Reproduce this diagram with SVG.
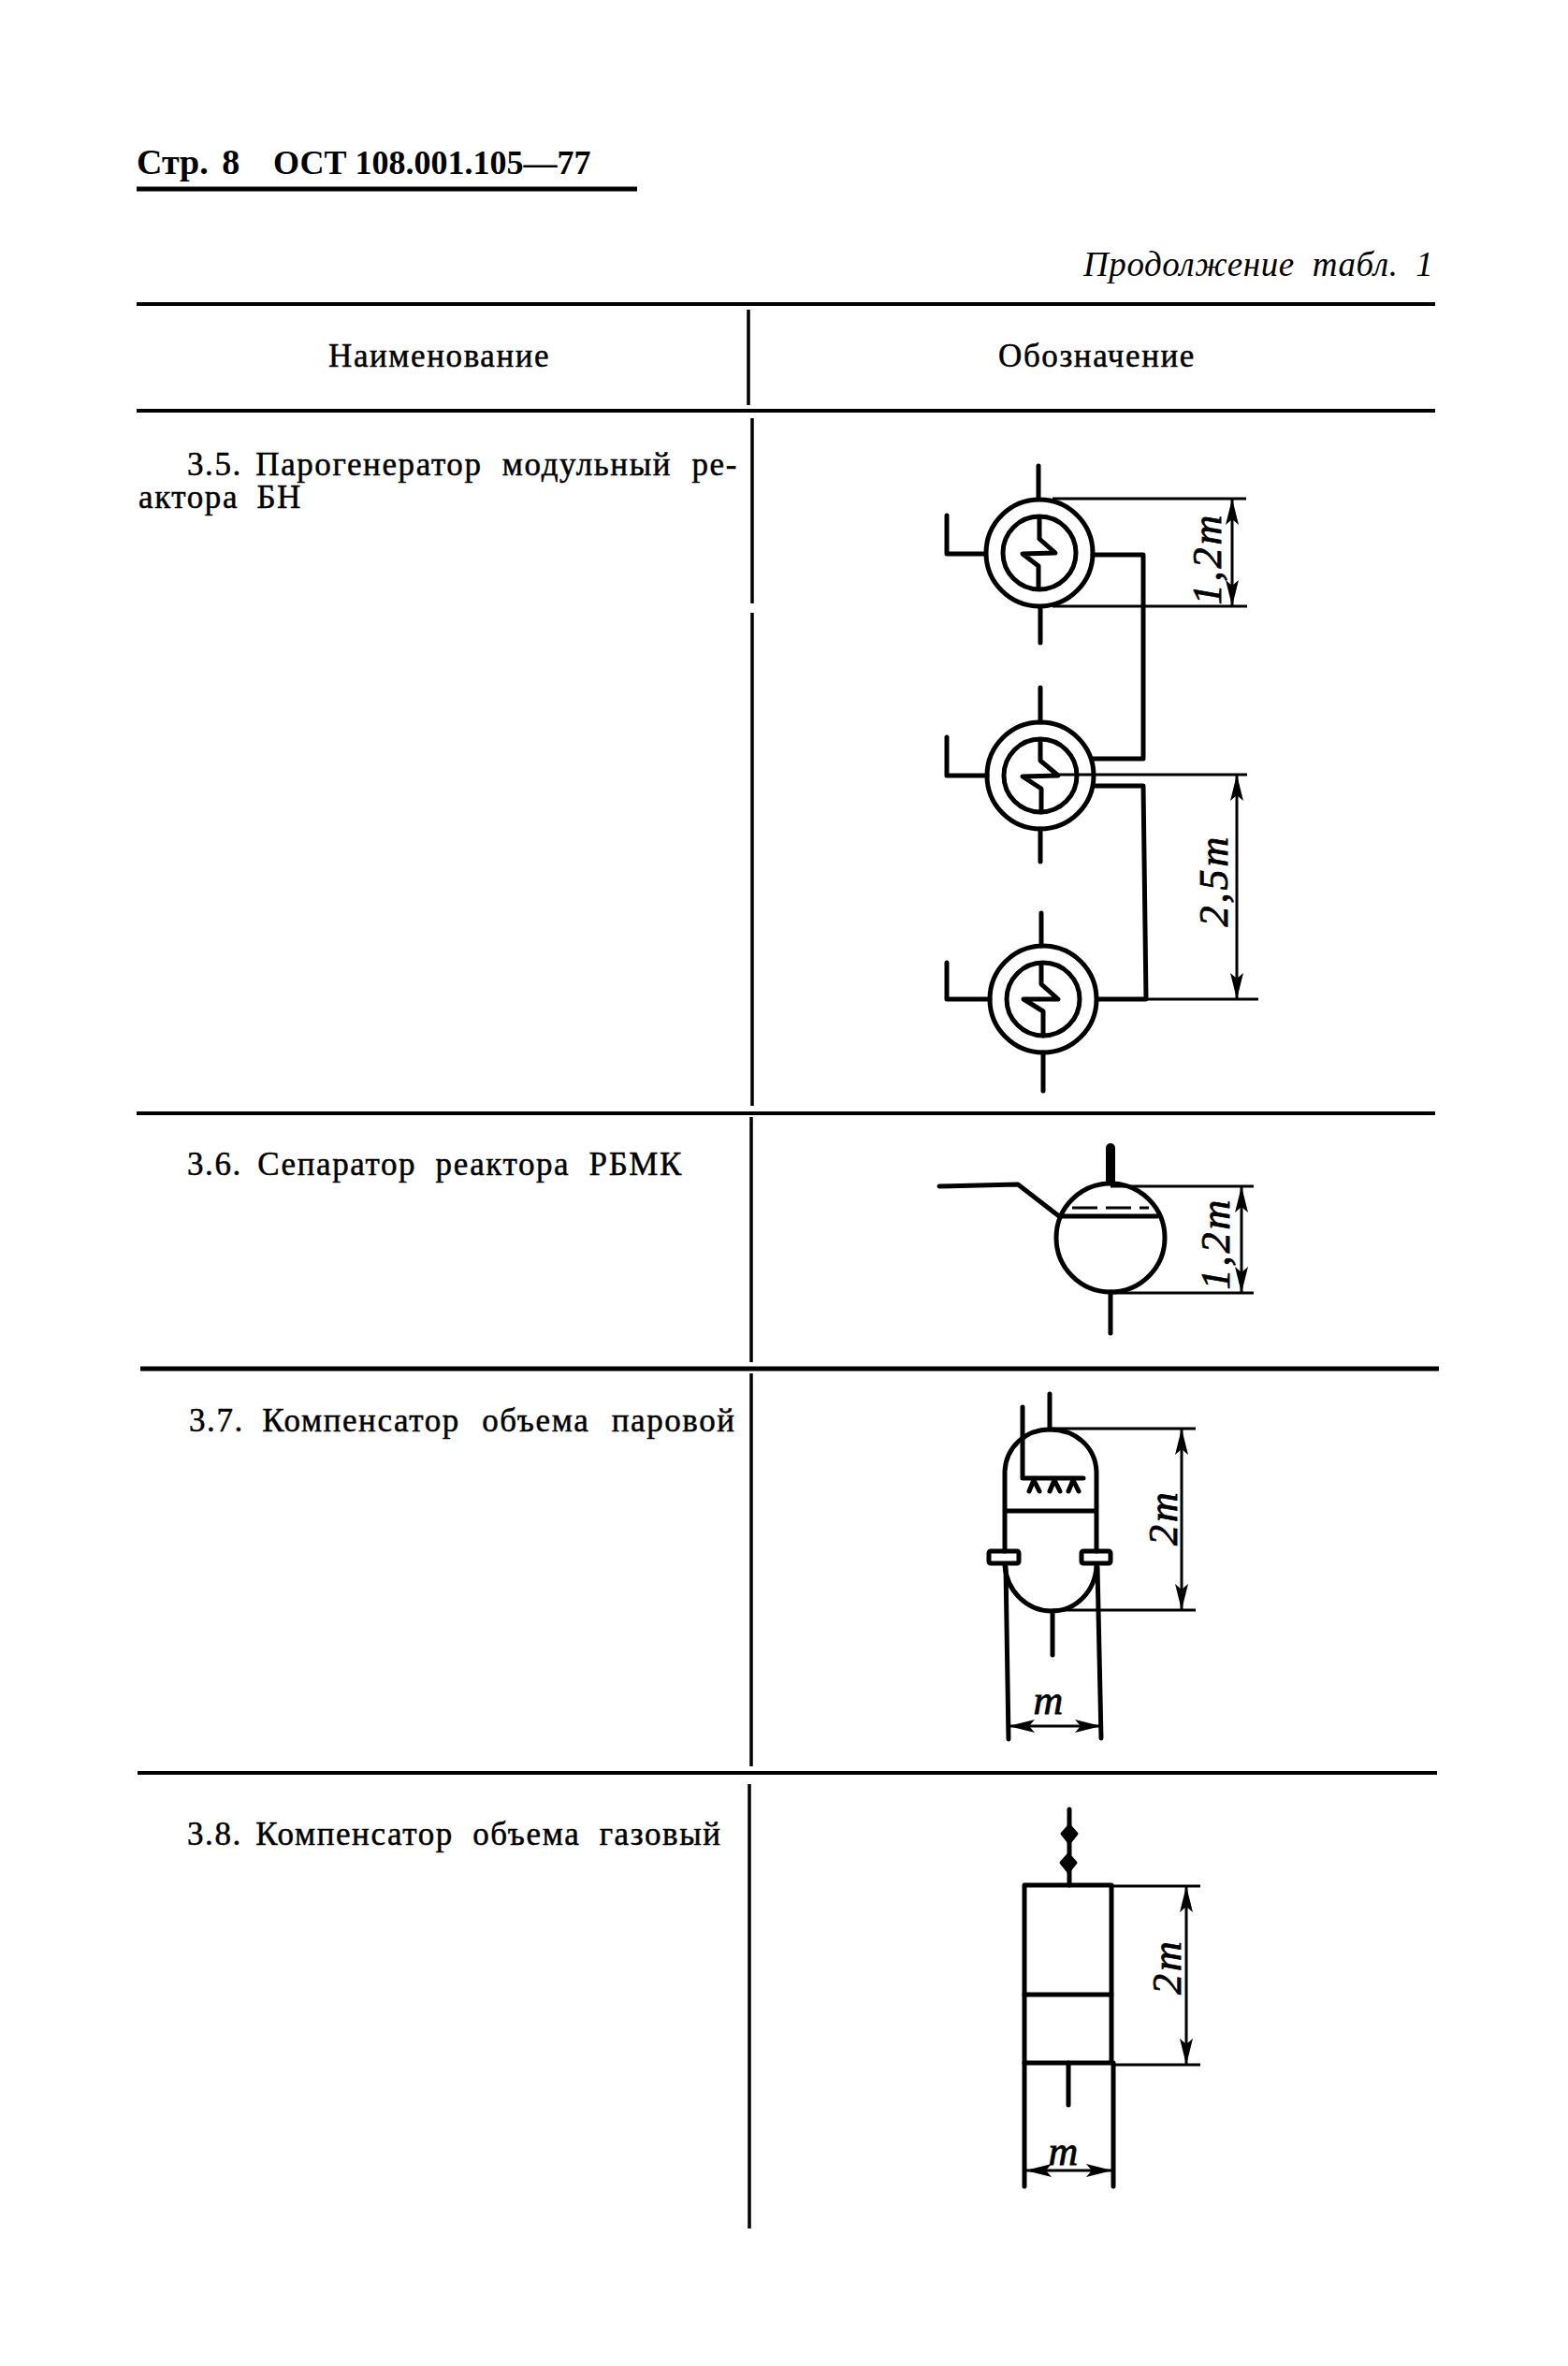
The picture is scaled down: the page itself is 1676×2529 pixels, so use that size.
<svg xmlns="http://www.w3.org/2000/svg" width="1676" height="2529" viewBox="0 0 1676 2529">
<style>
.l{fill:none;stroke:#000;stroke-width:5;stroke-linecap:round;stroke-linejoin:round}
.h{fill:none;stroke:#000;stroke-width:4}
.d{fill:none;stroke:#000;stroke-width:3}
.v{fill:none;stroke:#000;stroke-width:3.5}
.t{font-family:"Liberation Serif",serif;font-size:35px;letter-spacing:1.6px;fill:#000;stroke:#000;stroke-width:.5}
.b{font-family:"Liberation Serif",serif;font-size:36px;font-weight:bold;fill:#000}
.i{font-family:"Liberation Serif",serif;font-size:37px;letter-spacing:.6px;word-spacing:9px;font-style:italic;fill:#000}
.m{font-family:"Liberation Serif",serif;font-size:44px;letter-spacing:3px;font-style:italic;fill:#000;stroke:#000;stroke-width:.8;text-anchor:middle}
</style>
<defs>
<marker id="a" viewBox="0 0 28 14" refX="27" refY="7" markerWidth="28" markerHeight="14" markerUnits="userSpaceOnUse" orient="auto-start-reverse"><path d="M0 0L28 7L0 14L6 7Z" fill="#000"/></marker>
</defs>
<rect width="1676" height="2529" fill="#fff"/>
<g id="table">
<path class="h" style="stroke-width:5" d="M146 202H681"/>
<path class="h" d="M146 325H1534M146 439H1534M146 1190H1534"/>
<path class="h" style="stroke-width:5" d="M150 1463H1538"/>
<path class="h" d="M147 1895H1536"/>
<path class="v" d="M800 331V433M804 447V645M804 655V1182M803 1194V1456M803 1468V1888M801 1907V2382"/>
</g>
<g id="texts">
<text class="b" x="146" y="186" style="font-size:38px;word-spacing:5px">Стр. 8</text>
<text class="b" x="292" y="186">ОСТ 108.001.105—77</text>
<text class="i" x="1158" y="295">Продолжение табл. 1</text>
<text class="t" x="351" y="392">Наименование</text>
<text class="t" x="1067" y="392">Обозначение</text>
<text class="t" x="200" y="508"><tspan style="word-spacing:4px">3.5. </tspan><tspan style="word-spacing:11px">Парогенератор модульный ре-</tspan></text>
<text class="t" x="148" y="543" style="word-spacing:9px">актора БН</text>
<text class="t" x="200" y="1256"><tspan style="word-spacing:6px">3.6. </tspan><tspan style="word-spacing:10px">Сепаратор реактора РБМК</tspan></text>
<text class="t" x="202" y="1530"><tspan style="word-spacing:9px">3.7. </tspan><tspan style="word-spacing:13px">Компенсатор объема паровой</tspan></text>
<text class="t" x="200" y="1972"><tspan style="word-spacing:4px">3.8. </tspan><tspan style="word-spacing:10px">Компенсатор объема газовый</tspan></text>
</g>
<g id="connectors">
<path class="l" d="M1168 593H1222V811H1168"/>
<path class="l" d="M1170 840H1222L1225 1068H1173"/>
<path class="d" d="M1125 533H1332M1125 648H1333M1128 828H1333M1173 1068H1345"/>
<path class="d" marker-start="url(#a)" marker-end="url(#a)" d="M1317 534V647"/>
<path class="d" marker-start="url(#a)" marker-end="url(#a)" d="M1322 829V1067"/>
<text class="m" transform="translate(1305 597) rotate(-90)">1,2m</text>
<text class="m" transform="translate(1312 941) rotate(-90)">2,5m</text>
</g>
<g id="steam-generator-1">
<circle class="l" cx="1111" cy="591" r="57"/><circle class="l" cx="1111" cy="591" r="39"/>
<path class="l" d="M1110 498V533M1112 649V687M1012 551V592H1053"/>
<path class="l" d="M1111 553V576L1128 591L1093 592L1110 605V629"/>
</g>
<g id="steam-generator-2">
<circle class="l" cx="1112" cy="829" r="57"/><circle class="l" cx="1112" cy="829" r="39"/>
<path class="l" d="M1112 735V772M1112 886V921M1012 788V829H1055"/>
<path class="l" d="M1112 792V813L1131 829L1093 830L1113 843V868"/>
</g>
<g id="steam-generator-3">
<circle class="l" cx="1115" cy="1068" r="57"/><circle class="l" cx="1115" cy="1068" r="39"/>
<path class="l" d="M1113 976V1011M1115 1125V1166M1012 1029V1068H1058"/>
<path class="l" d="M1113 1031V1052L1131 1068L1094 1068L1115 1081V1107"/>
</g>
<g id="separator">
<circle class="l" cx="1187" cy="1323" r="58"/>
<path class="l" style="stroke-width:10" d="M1187 1227V1262"/>
<path class="l" d="M1187 1381V1425M1004 1268L1088 1266L1132 1300M1135 1300H1237"/>
<path class="d" stroke-dasharray="27 9" d="M1146 1291H1228"/>
<path class="d" d="M1187 1268H1340M1187 1382H1340"/>
<path class="d" marker-start="url(#a)" marker-end="url(#a)" d="M1327 1269V1381"/>
<text class="m" transform="translate(1314 1329) rotate(-90)">1,2m</text>
</g>
<g id="pressurizer-steam">
<path class="l" d="M1122 1490V1528M1093 1504V1580H1158"/>
<path class="l" d="M1074 1658V1573C1075 1547 1096 1528 1122 1528C1150 1528 1171 1547 1172 1573V1658M1074 1615H1172"/>
<path class="l" d="M1074 1673C1076 1701 1098 1722 1124 1722C1150 1722 1171 1701 1172 1673M1125 1722V1769"/>
<rect class="l" x="1057" y="1658" width="32" height="13" rx="2"/>
<rect class="l" x="1156" y="1658" width="31" height="13" rx="2"/>
<path class="l" d="M1100 1594L1105 1582L1111 1594M1122 1594L1127 1582L1133 1594M1142 1594L1147 1582L1153 1594"/>
<path class="d" d="M1122 1527H1278M1124 1721H1278"/>
<path class="d" marker-start="url(#a)" marker-end="url(#a)" d="M1263 1528V1720"/>
<text class="m" transform="translate(1258 1622) rotate(-90)">2m</text>
<path class="l" d="M1075 1675L1078 1859M1173 1675L1177 1858"/>
<path class="d" marker-start="url(#a)" marker-end="url(#a)" d="M1079 1845H1176"/>
<text class="m" x="1122" y="1832">m</text>
</g>
<g id="pressurizer-gas">
<rect class="l" x="1095" y="2015" width="93" height="190"/>
<path class="l" d="M1095 2132H1188M1143 1934V2015M1142 2205V2250M1095 2205V2337M1190 2205V2337"/>
<path stroke="#000" stroke-width="3" stroke-linejoin="round" d="M1143 1951L1151 1960L1143 1970L1135 1960ZM1142 1982L1150 1991L1142 2001L1134 1991Z"/>
<path class="d" d="M1188 2016H1283M1188 2207H1283"/>
<path class="d" marker-start="url(#a)" marker-end="url(#a)" d="M1268 2017V2206"/>
<text class="m" transform="translate(1262 2102) rotate(-90)">2m</text>
<path class="d" marker-start="url(#a)" marker-end="url(#a)" d="M1097 2320H1188"/>
<text class="m" x="1138" y="2314">m</text>
</g>
</svg>
